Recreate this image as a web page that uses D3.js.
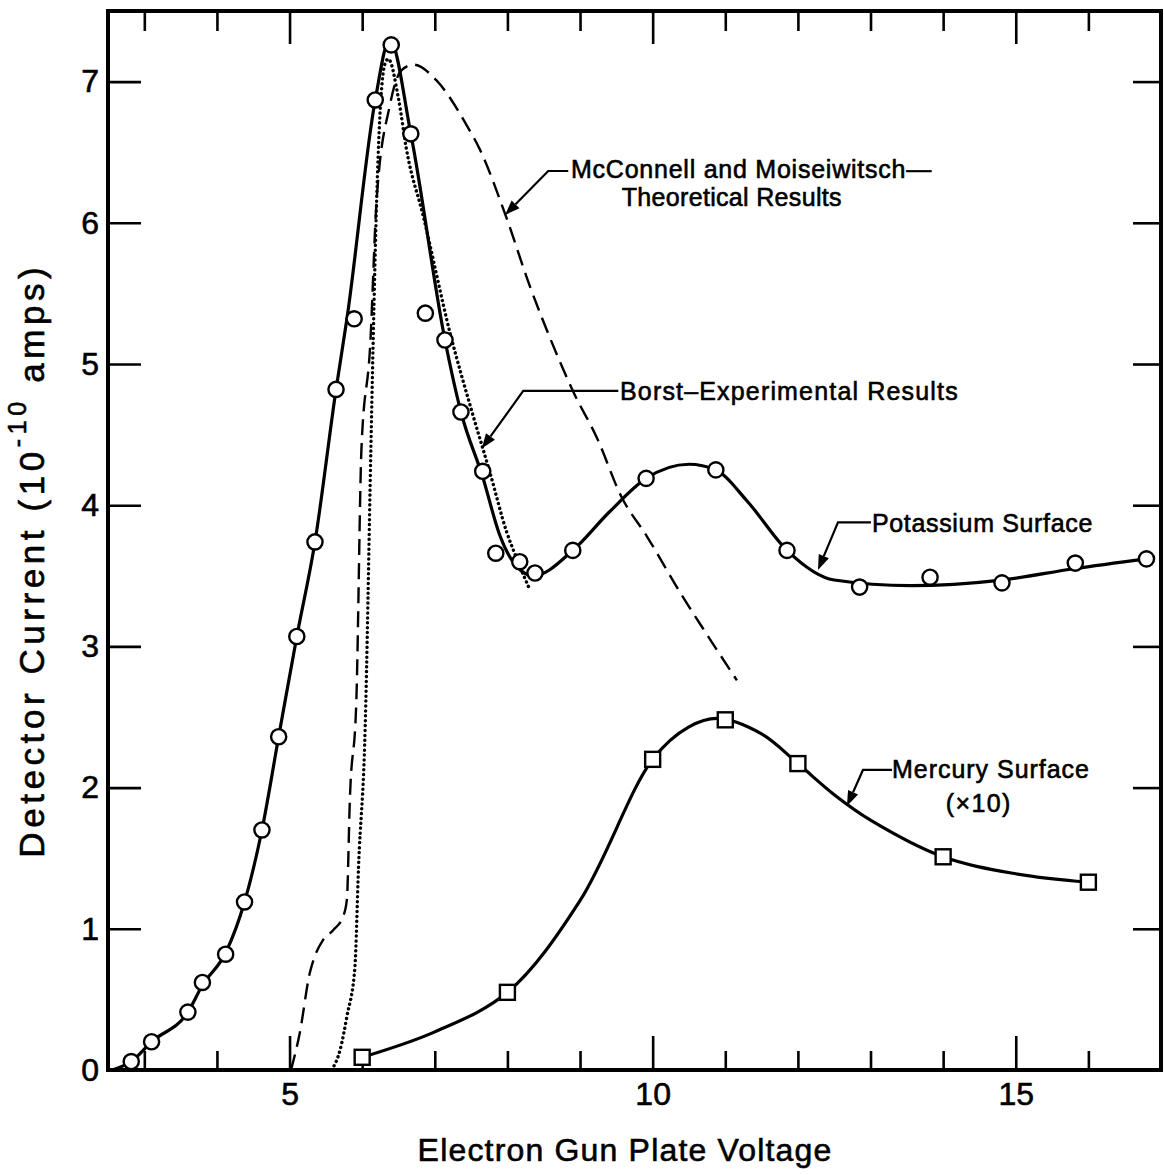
<!DOCTYPE html>
<html><head><meta charset="utf-8">
<script src="https://cdn.jsdelivr.net/npm/d3@7"></script>
<style>
body{margin:0;background:#fff;}
svg{display:block;}
text{font-family:"Liberation Sans",Arial,sans-serif;fill:#000;}
</style>
</head><body>
<svg id="chart" width="1164" height="1175"></svg>
<script>
// ---------------- DATA ----------------
// Potassium surface: measured points (circles)
const potassiumX = [2.82,3.10,3.60,3.80,4.12,4.38,4.62,4.85,5.10,5.35,5.64,5.89,6.18,6.40,6.67,6.87,7.14,7.36,7.66,7.84,8.17,8.38,8.90,9.91,10.87,11.85,12.85,13.82,14.81,15.82,16.80];
const potassiumY = [0.06,0.20,0.41,0.62,0.82,1.19,1.70,2.36,3.07,3.74,4.82,5.32,6.87,7.26,6.63,5.36,5.17,4.66,4.24,3.66,3.60,3.52,3.68,4.19,4.25,3.68,3.42,3.49,3.45,3.59,3.62];
// Potassium surface: smooth fitted curve
const potassiumCurveX = [2.56,2.82,3.10,3.60,3.80,4.12,4.38,4.62,4.85,5.10,5.35,5.64,5.79,6.18,6.38,6.67,7.14,7.36,7.66,7.90,8.12,8.36,8.90,9.40,9.91,10.50,10.87,11.30,11.85,12.50,13.55,14.80,15.80,16.80];
const potassiumCurveY = [0.00,0.06,0.20,0.41,0.60,0.83,1.19,1.70,2.36,3.07,3.74,4.82,5.32,6.87,7.30,6.63,5.17,4.66,4.20,3.78,3.57,3.50,3.68,3.95,4.19,4.29,4.25,4.03,3.68,3.47,3.43,3.47,3.55,3.62];
// Mercury surface (x10): measured points (squares)
const mercuryX = [6,8,10,11,12,14,16];
const mercuryY = [0.09,0.55,2.20,2.48,2.17,1.51,1.33];
// Mercury surface: smooth curve
const mercuryCurveX = [6.0,7.0,8.0,9.0,10.0,10.5,10.9,11.5,12.0,12.5,13.0,14.0,15.0,16.0];
const mercuryCurveY = [0.09,0.27,0.55,1.20,2.20,2.43,2.49,2.38,2.17,1.95,1.77,1.51,1.39,1.33];
// McConnell and Moiseiwitsch - theoretical (dashed)
const theoryX = [5.02,5.14,5.28,5.33,5.46,5.60,5.74,5.79,5.83,5.92,5.99,6.11,6.20,6.38,6.54,6.71,7.02,7.44,7.62,7.97,8.31,8.63,8.91,9.23,9.57,9.92,10.38,10.74,11.16];
const theoryY = [0.00,0.26,0.69,0.78,0.92,0.99,1.09,1.21,1.91,2.62,4.40,5.13,6.17,6.83,7.08,7.12,7.01,6.69,6.52,6.06,5.55,5.13,4.80,4.48,4.06,3.78,3.38,3.09,2.76];
// Borst - experimental (dotted)
const borstX = [5.58,5.70,5.79,5.90,5.95,6.04,6.12,6.15,6.20,6.31,6.36,6.50,6.61,6.84,7.21,7.53,7.76,7.99,8.13,8.31];
const borstY = [0.00,0.15,0.38,0.73,1.44,2.40,4.40,5.13,6.17,7.12,7.16,6.88,6.52,6.05,5.22,4.63,4.23,3.81,3.62,3.40];
// Axes
const xMajorTicks = [5,10,15];
const xMinorTicks = [3,4,6,7,8,9,11,12,13,14,16];
const yTicks = [0,1,2,3,4,5,6,7];
const xTitle = "Electron Gun Plate Voltage";
const yTitleParts = ["Detector Current (10", "-10", " amps)"];
const labels = {
  theory1: "McConnell and Moiseiwitsch\u2014",
  theory2: "Theoretical Results",
  borst: "Borst\u2013Experimental Results",
  potassium: "Potassium Surface",
  mercury1: "Mercury Surface",
  mercury2: "(\u00d710)"
};

// ---------------- LAYOUT ----------------
const svg = d3.select("#chart");
const L = 108, R = 1161, T = 11, B = 1070;
const x = d3.scaleLinear().domain([2.5, 17]).range([L, R]);
const y = d3.scaleLinear().domain([0, 7.5]).range([B, T]);

const zip = (xs, ys) => xs.map((v, i) => [v, ys[i]]);
const lineMono = d3.line().x(d => x(d[0])).y(d => y(d[1])).curve(d3.curveMonotoneX);
const lineSmooth = d3.line().x(d => x(d[0])).y(d => y(d[1])).curve(d3.curveCatmullRom.alpha(0.5));

// widen a text by letter-spacing so it spans the target width
function fitSpacing(sel, target) {
  const w = sel.node().getBBox().width;
  const n = sel.text().length;
  const ls = Math.max(0, (target - w) / n);
  sel.attr("letter-spacing", ls.toFixed(2));
  if (sel.attr("text-anchor") === "middle") sel.attr("dx", (ls / 2).toFixed(2));
  return sel;
}

// ---------------- AXES ----------------
function styleAxis(g) {
  g.select(".domain").remove();
  g.selectAll(".tick line").attr("stroke", "#000").attr("stroke-width", 2.6);
  g.selectAll("text").attr("font-size", 32).attr("fill", "#000")
    .attr("stroke", "#000").attr("stroke-width", 0.6)
    .attr("font-family", '"Liberation Sans",Arial,sans-serif');
}
// bottom
svg.append("g").attr("transform", `translate(0,${B})`)
  .call(d3.axisBottom(x).tickValues(xMinorTicks).tickSize(-19).tickFormat(""))
  .call(styleAxis);
svg.append("g").attr("transform", `translate(0,${B})`)
  .call(d3.axisBottom(x).tickValues(xMajorTicks).tickSize(-34).tickPadding(12).tickFormat(d3.format("d")))
  .call(styleAxis);
// top
svg.append("g").attr("transform", `translate(0,${T})`)
  .call(d3.axisTop(x).tickValues(xMinorTicks).tickSize(-20).tickFormat(""))
  .call(styleAxis);
svg.append("g").attr("transform", `translate(0,${T})`)
  .call(d3.axisTop(x).tickValues(xMajorTicks).tickSize(-33).tickFormat(""))
  .call(styleAxis);
// left
svg.append("g").attr("transform", `translate(${L},0)`)
  .call(d3.axisLeft(y).tickValues(yTicks).tickSize(-33).tickPadding(9).tickFormat(d3.format("d")))
  .call(styleAxis);
// right
svg.append("g").attr("transform", `translate(${R},0)`)
  .call(d3.axisRight(y).tickValues(yTicks.filter(d => d > 0)).tickSize(-28).tickFormat(""))
  .call(styleAxis);

// frame
svg.append("rect").attr("x", L).attr("y", T).attr("width", R - L).attr("height", B - T)
  .attr("fill", "none").attr("stroke", "#000").attr("stroke-width", 4);

// ---------------- CURVES ----------------
svg.append("path").datum(zip(theoryX, theoryY)).attr("d", lineMono)
  .attr("fill", "none").attr("stroke", "#000").attr("stroke-width", 2.4)
  .attr("stroke-dasharray", "16,8");
svg.append("path").datum(zip(borstX, borstY)).attr("d", lineMono)
  .attr("fill", "none").attr("stroke", "#000").attr("stroke-width", 3.4)
  .attr("stroke-linecap", "round").attr("stroke-dasharray", "0.1,4.8");
svg.append("path").datum(zip(potassiumCurveX, potassiumCurveY)).attr("d", lineMono)
  .attr("fill", "none").attr("stroke", "#000").attr("stroke-width", 3.2);
svg.append("path").datum(zip(mercuryCurveX, mercuryCurveY)).attr("d", lineSmooth)
  .attr("fill", "none").attr("stroke", "#000").attr("stroke-width", 3.2);

// markers
svg.append("g").selectAll("circle").data(zip(potassiumX, potassiumY)).join("circle")
  .attr("cx", d => x(d[0])).attr("cy", d => y(d[1])).attr("r", 7.6)
  .attr("fill", "#fff").attr("stroke", "#000").attr("stroke-width", 2.4);
const sq = 15;
svg.append("g").selectAll("rect").data(zip(mercuryX, mercuryY)).join("rect")
  .attr("x", d => x(d[0]) - sq / 2).attr("y", d => y(d[1]) - sq / 2)
  .attr("width", sq).attr("height", sq)
  .attr("fill", "#fff").attr("stroke", "#000").attr("stroke-width", 2.4);

// ---------------- ANNOTATIONS ----------------
function leader(pts) {
  const p = pts.map(d => [x(d[0]), y(d[1])]);
  const tip = p[p.length - 1], prev = p[p.length - 2];
  const ang = Math.atan2(tip[1] - prev[1], tip[0] - prev[0]);
  const len = 15, hw = 5.5;
  const bx = tip[0] - len * Math.cos(ang), by = tip[1] - len * Math.sin(ang);
  const shaft = p.slice(0, -1).concat([[bx, by]]);
  svg.append("path").attr("d", d3.line()(shaft)).attr("fill", "none")
    .attr("stroke", "#000").attr("stroke-width", 2.2);
  const head = [tip,
    [bx + hw * Math.sin(ang), by - hw * Math.cos(ang)],
    [bx - hw * Math.sin(ang), by + hw * Math.cos(ang)]];
  svg.append("path").attr("d", d3.line()(head) + "Z").attr("fill", "#000");
}
function label(txt, dx, dy, width, anchor) {
  const t = svg.append("text").attr("x", x(dx)).attr("y", y(dy))
    .attr("font-size", 25).attr("text-anchor", anchor || "start")
    .attr("stroke", "#000").attr("stroke-width", 0.6).text(txt);
  fitSpacing(t, width);
  return t;
}

label(labels.theory1, 8.876, 6.317, 361);
label(labels.theory2, 11.088, 6.120, 220, "middle");
leader([[8.838, 6.367], [8.562, 6.367], [7.967, 6.055]]);

label(labels.borst, 9.55, 4.745, 339);
leader([[9.527, 4.809], [8.218, 4.809], [7.646, 4.401]]);

label(labels.potassium, 13.02, 3.810, 221);
leader([[13.006, 3.879], [12.552, 3.879], [12.277, 3.541]]);

label(labels.mercury1, 13.296, 2.068, 198);
label(labels.mercury2, 14.48, 1.827, 66, "middle");
leader([[13.296, 2.125], [12.896, 2.125], [12.676, 1.870]]);

// ---------------- TITLES ----------------
const xt = svg.append("text").attr("x", (417 + 832) / 2).attr("y", 1161)
  .attr("text-anchor", "middle").attr("font-size", 32)
  .attr("stroke", "#000").attr("stroke-width", 0.6).text(xTitle);
fitSpacing(xt, 415);

const yt = svg.append("text").attr("text-anchor", "middle").attr("font-size", 35)
  .attr("stroke", "#000").attr("stroke-width", 0.6)
  .attr("transform", `translate(44,${(265 + 860) / 2}) rotate(-90)`);
yt.append("tspan").text(yTitleParts[0]);
yt.append("tspan").attr("font-size", "0.72em").attr("dy", "-0.7em").text(yTitleParts[1]);
yt.append("tspan").attr("dy", "0.504em").text(yTitleParts[2]);
fitSpacing(yt, 595);
</script>
</body></html>
